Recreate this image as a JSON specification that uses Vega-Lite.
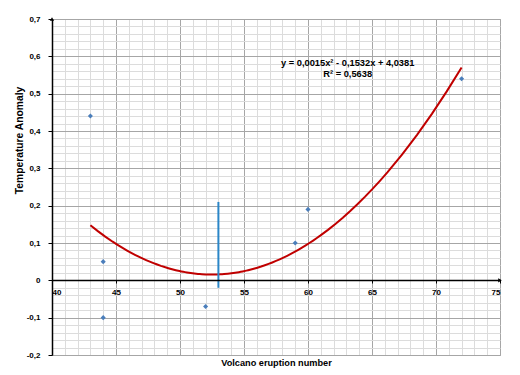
{
  "$schema": "https://vega.github.io/schema/vega-lite/v6.json",
  "width": 448,
  "height": 336,
  "autosize": {"type": "none"},
  "padding": {"left": 52, "top": 19, "right": 20, "bottom": 20},
  "config": {
    "locale": {"number": {"decimal": ",", "thousands": ".", "grouping": [3], "currency": ["", ""], "minus": "-"}},
    "view": {"stroke": "#a6a6a6", "strokeWidth": 1},
    "font": "Liberation Sans",
    "axis": {"labelFont": "Liberation Sans", "labelFontWeight": "bold", "labelFontSize": 8, "labelColor": "#000", "titleFont": "Liberation Sans", "titleFontWeight": "bold", "titleColor": "#000"}
  },
  "data": {"values": [
    {"x": 43, "y": 0.44},
    {"x": 44, "y": 0.05},
    {"x": 44, "y": -0.1},
    {"x": 52, "y": -0.07},
    {"x": 59, "y": 0.1},
    {"x": 60, "y": 0.19},
    {"x": 72, "y": 0.54}
  ]},
  "layer": [
    {
      "mark": {"type": "point", "shape": "diamond", "filled": true, "color": "#4a7ebb", "size": 26, "opacity": 1},
      "encoding": {
        "x": {"field": "x", "type": "quantitative",
          "scale": {"domain": [40, 75], "nice": false, "zero": false},
          "axis": {"orient": "top", "tickCount": 100, "values": [40,41,42,43,44,45,46,47,48,49,50,51,52,53,54,55,56,57,58,59,60,61,62,63,64,65,66,67,68,69,70,71,72,73,74,75],
            "grid": true, "gridColor": {"condition": {"test": "datum.value % 5 === 0", "value": "#a6a6a6"}, "value": "#dcdcdc"},
            "gridWidth": 1, "labels": false, "ticks": false, "domain": false, "title": null}},
        "y": {"field": "y", "type": "quantitative",
          "scale": {"domain": [-0.2, 0.7], "nice": false, "zero": false},
          "axis": {"orient": "right", "tickCount": 100, "values": [-0.2,-0.18,-0.16,-0.14,-0.12,-0.1,-0.08,-0.06,-0.04,-0.02,0,0.02,0.04,0.06,0.08,0.1,0.12,0.14,0.16,0.18,0.2,0.22,0.24,0.26,0.28,0.3,0.32,0.34,0.36,0.38,0.4,0.42,0.44,0.46,0.48,0.5,0.52,0.54,0.56,0.58,0.6,0.62,0.64,0.66,0.68,0.7],
            "grid": true, "gridColor": {"condition": {"test": "abs(round(datum.value*100)) % 10 === 0", "value": "#a6a6a6"}, "value": "#dcdcdc"},
            "gridWidth": 1, "labels": false, "ticks": false, "domain": false, "title": null}}
      }
    },
    {
      "transform": [{"regression": "y", "on": "x", "method": "poly", "order": 2}],
      "mark": {"type": "line", "color": "#c00000", "strokeWidth": 2},
      "encoding": {
        "x": {"field": "x", "type": "quantitative",
          "axis": {"orient": "bottom", "offset": -75, "values": [40,45,50,55,60,65,70,75], "tickCount": 100, "format": "d",
            "grid": false, "domain": true, "domainColor": "#000", "domainWidth": 1.5, "zindex": 1,
            "ticks": true, "tickSize": 3, "tickColor": "#000", "labelPadding": 5,
            "title": "Volcano eruption number", "titleFontSize": 9.2, "titleY": 78}},
        "y": {"field": "y", "type": "quantitative",
          "axis": {"orient": "left", "values": [-0.2,-0.1,0,0.1,0.2,0.3,0.4,0.5,0.6,0.7], "tickCount": 100,
            "format": ".1~f", "grid": false, "zindex": 1,
            "ticks": true, "tickSize": 4, "tickColor": "#000",
            "labelPadding": 8, "domain": true, "domainColor": "#000", "domainWidth": 1.5,
            "title": "Temperature Anomaly", "titleFontSize": 10.3, "titleX": -28, "titleY": 121}}
      }
    },
    {
      "data": {"values": [{}]},
      "mark": {"type": "rule", "color": "#2a86c8", "strokeWidth": 2},
      "encoding": {
        "x": {"datum": 53, "type": "quantitative", "axis": null},
        "y": {"datum": -0.02, "type": "quantitative", "axis": null},
        "y2": {"datum": 0.21}
      }
    },
    {
      "data": {"values": [{}]},
      "mark": {"type": "text", "font": "Liberation Sans", "fontWeight": "bold", "fontSize": 9.3, "align": "center", "baseline": "middle", "color": "#000", "lineHeight": 11},
      "encoding": {
        "x": {"datum": 63.1, "type": "quantitative", "axis": null},
        "y": {"datum": 0.583, "type": "quantitative", "axis": null},
        "text": {"value": ["y = 0,0015x² - 0,1532x + 4,0381", "R² = 0,5638"]}
      }
    },
    {
      "data": {"values": [{}]},
      "mark": {"type": "point", "shape": "triangle-up", "filled": true, "color": "#000", "size": 18, "opacity": 1},
      "encoding": {
        "x": {"datum": 40, "type": "quantitative", "axis": null},
        "y": {"datum": 0.7, "type": "quantitative", "axis": null}
      }
    },
    {
      "data": {"values": [{}]},
      "mark": {"type": "point", "shape": "triangle-right", "filled": true, "color": "#000", "size": 18, "opacity": 1},
      "encoding": {
        "x": {"datum": 75, "type": "quantitative", "axis": null},
        "y": {"datum": 0, "type": "quantitative", "axis": null}
      }
    }
  ],
  "resolve": {"axis": {"x": "independent", "y": "independent"}}
}
